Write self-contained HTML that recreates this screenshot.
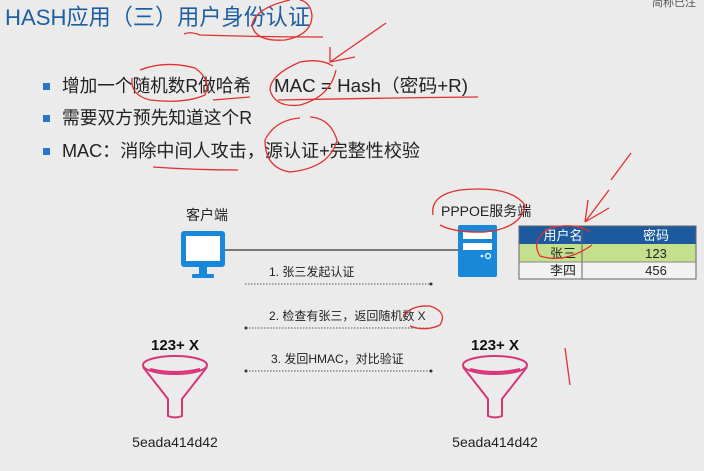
<!DOCTYPE html>
<html><head><meta charset="utf-8"><style>
html,body{margin:0;padding:0;background:#ebebeb;}
svg{display:block;}
text{font-family:"Liberation Sans","Noto Sans CJK SC",sans-serif;}
</style></head><body>
<svg width="704" height="471" viewBox="0 0 704 471" xmlns="http://www.w3.org/2000/svg">
<rect width="704" height="471" fill="#ebebeb"/>
<text x="5" y="25" font-size="22.5" fill="#1f5f9f" textLength="305" lengthAdjust="spacingAndGlyphs">HASH应用（三）用户身份认证</text>
<text x="652" y="6" font-size="11" fill="#555">简称已注</text>
<g font-size="18" fill="#222">
<rect x="43" y="83" width="7" height="7" fill="#2a77c9"/>
<text x="62" y="92" textLength="189" lengthAdjust="spacingAndGlyphs">增加一个随机数R做哈希</text>
<text x="274" y="92" textLength="194" lengthAdjust="spacingAndGlyphs">MAC = Hash（密码+R)</text>
<rect x="43" y="115" width="7" height="7" fill="#2a77c9"/>
<text x="62" y="124" textLength="190" lengthAdjust="spacingAndGlyphs">需要双方预先知道这个R</text>
<rect x="43" y="148" width="7" height="7" fill="#2a77c9"/>
<text x="62" y="157" textLength="358" lengthAdjust="spacingAndGlyphs">MAC：消除中间人攻击，源认证+完整性校验</text>
</g>
<text x="186" y="220" font-size="14" fill="#222">客户端</text>
<text x="441" y="216" font-size="14" fill="#222">PPPOE服务端</text>
<!-- monitor -->
<rect x="181" y="231" width="44" height="36" rx="3" fill="#1a88d8"/>
<rect x="186" y="236" width="34" height="25" fill="#fff"/>
<rect x="199" y="267" width="8" height="8" fill="#1a88d8"/>
<rect x="192" y="274" width="22" height="4" rx="1" fill="#1a88d8"/>
<line x1="225" y1="250" x2="458" y2="250" stroke="#333" stroke-width="1.2"/>
<!-- server -->
<rect x="458" y="225" width="39" height="52" rx="2" fill="#1a88d8"/>
<rect x="463" y="232" width="29" height="7" fill="#fff"/>
<rect x="463" y="243" width="29" height="7" fill="#fff"/>
<circle cx="482" cy="256" r="1.3" fill="#fff"/>
<circle cx="488" cy="256" r="2.5" fill="none" stroke="#fff" stroke-width="1.2"/>
<!-- table -->
<rect x="519" y="226" width="177" height="18" fill="#1b5a9f"/>
<rect x="519" y="244" width="177" height="18" fill="#c5e08c"/>
<rect x="519" y="262" width="177" height="17" fill="#f2f2f2"/>
<rect x="519" y="226" width="177" height="53" fill="none" stroke="#666" stroke-width="1"/>
<line x1="582" y1="226" x2="582" y2="279" stroke="#666"/>
<line x1="519" y1="262" x2="696" y2="262" stroke="#888"/>
<g font-size="13" text-anchor="middle">
<text x="563" y="240" fill="#fff">用户名</text><text x="656" y="240" fill="#fff">密码</text>
<text x="563" y="258" fill="#222">张三</text><text x="656" y="258" fill="#222">123</text>
<text x="563" y="275" fill="#222">李四</text><text x="656" y="275" fill="#222">456</text>
</g>
<!-- messages -->
<g font-size="12" fill="#222">
<text x="269" y="276">1. 张三发起认证</text>
<text x="269" y="320">2. 检查有张三，返回随机数 X</text>
<text x="271" y="363">3. 发回HMAC，对比验证</text>
</g>
<g stroke="#555" stroke-width="1" stroke-dasharray="1.5,1.5">
<line x1="245" y1="284" x2="431" y2="284"/>
<line x1="246" y1="328" x2="431" y2="328"/>
<line x1="246" y1="371" x2="431" y2="371"/>
</g>
<g fill="#333"><circle cx="431" cy="284" r="1.5"/><circle cx="246" cy="328" r="1.5"/><circle cx="246" cy="371" r="1.5"/><circle cx="431" cy="371" r="1.5"/></g>
<!-- funnels -->
<g font-size="15" font-weight="bold" fill="#111" text-anchor="middle">
<text x="175" y="350">123+ X</text><text x="495" y="350">123+ X</text>
</g>
<g fill="none" stroke="#d8357a" stroke-width="2">
<ellipse cx="175" cy="365" rx="32" ry="9"/>
<path d="M150 369 Q175 375 200 369"/>
<path d="M143 367 L168 399 L168 416 Q175 419 182 416 L182 399 L207 367"/>
<ellipse cx="495" cy="365" rx="32" ry="9"/>
<path d="M470 369 Q495 375 520 369"/>
<path d="M463 367 L488 399 L488 416 Q495 419 502 416 L502 399 L527 367"/>
</g>
<g font-size="14" fill="#222" text-anchor="middle">
<text x="175" y="447">5eada414d42</text><text x="495" y="447">5eada414d42</text>
</g>
<!-- red annotations -->
<g fill="none" stroke="#e23030" stroke-width="1.3">
<path d="M184 34 Q190 31 200 35 Q260 37 323 37"/>
<path d="M290 0 Q255 8 252 25 Q255 42 285 40 Q312 35 312 15 Q310 2 300 0"/>
<path d="M386 23 L330 62 M330 47 L330 62 L355 57"/>
<path d="M140 70 Q165 60 195 68 Q212 80 205 95 Q185 104 150 100 Q130 95 132 78"/>
<path d="M213 100 L250 97"/>
<path d="M333 66 Q320 58 300 62 Q270 75 270 90 Q275 108 300 105 Q330 97 336 70"/>
<path d="M278 100 Q380 98 478 97"/>
<path d="M153 167 Q195 170 238 170"/>
<path d="M300 118 Q275 120 265 140 Q265 168 290 172 Q330 168 337 140 Q330 118 310 117"/>
<path d="M631 153 L611 180"/>
<path d="M433 215 Q430 195 460 190 Q510 185 525 205 Q522 228 485 232 Q455 233 440 225"/>
<path d="M609 190 L585 222 M585 222 L588 200 M585 222 L609 208"/>
<path d="M590 232 Q575 222 550 228 Q530 240 540 256 Q565 264 592 245"/>
<path d="M403 317 Q410 305 430 306 Q448 312 440 325 Q425 332 410 326"/>
<path d="M565 348 L570 385"/>
</g>
</svg>
</body></html>
